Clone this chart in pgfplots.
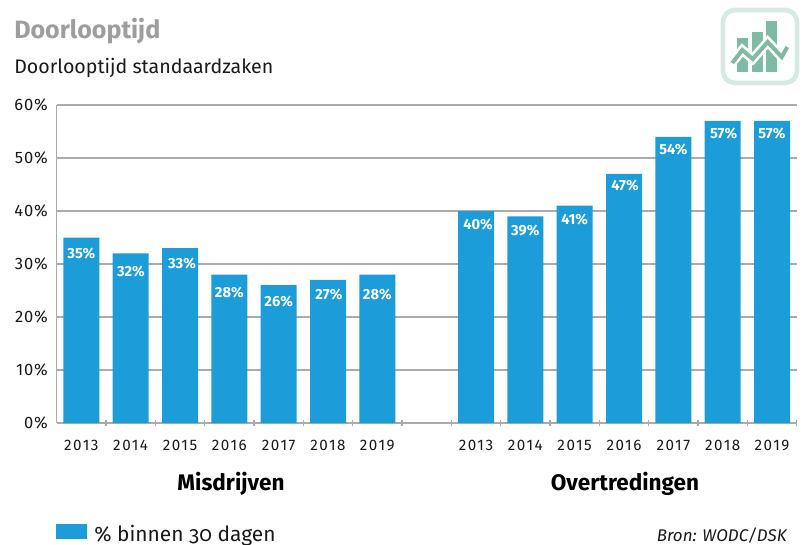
\documentclass[border=0pt]{standalone}
\usepackage{pgfplots}
\usepackage{pgfplotstable}
\pgfplotsset{compat=1.18}
\usepackage{fontspec}
\setmainfont[Numbers=Lining]{Fira Sans}
\newfontfamily\oldfig[Numbers=OldStyle]{Fira Sans}
\newfontfamily\tickf[Numbers=Lining,LetterSpace=10]{Fira Sans}
\newfontfamily\ytickf[Numbers=Lining,LetterSpace=5]{Fira Sans}
\definecolor{barblue}{HTML}{1C9CD9}
\definecolor{gridgr}{HTML}{ABABAB}
\definecolor{logog}{HTML}{7FBBA4}
\definecolor{logob}{HTML}{D6E9E2}
\pgfplotstableread{
x  y  dx  dy
1  35 0   16.2
2  32 0.3 18.3
3  33 2   15.7
4  28 0   18.1
5  26 0   16.5
6  27 1   14.8
7  28 0   20.1
9  40 2   13.7
10 39 0   14.4
11 41 0   14
12 47 1   11.8
13 54 0   12.9
14 57 1   12.8
15 57 0   12.8
}\datatable
\begin{document}
\begin{tikzpicture}[x=0.75pt,y=-0.75pt]
\path[use as bounding box] (0,0) rectangle (803,545);
\begin{axis}[
  at={(42.5pt,-317.25pt)}, anchor=south west,
  scale only axis, width=555pt, height=238.5pt,
  xmin=0.5, xmax=15.5, ymin=0, ymax=60,
  ybar, bar width=27pt, bar shift=0pt,
  axis lines=left, axis line style={gridgr,line width=1pt,-},
  ymajorgrids, grid style={gridgr,line width=0.9pt},
  ytick={0,10,...,60},
  yticklabel={\pgfmathprintnumber{\tick}\%},
  /pgf/number format/assume math mode=true,
  xtick={1,2,3,4,5,6,7,9,10,11,12,13,14,15},
  xticklabels={2013,2014,2015,2016,2017,2018,2019,2013,2014,2015,2016,2017,2018,2019},
  minor xtick={1.5,2.5,...,15.5},
  major x tick style={draw=none},
  major y tick style={draw=none},
  minor x tick style={gridgr,line width=0.9pt},
  minor tick length=4.5pt,
  xticklabel style={font=\tickf\fontsize{11.4}{13}\selectfont,text=black!90,yshift=-7pt},
  yticklabel style={font=\ytickf\fontsize{12.4}{13}\selectfont,text=black!90,xshift=-1pt,yshift=0.4pt},
  visualization depends on={\thisrow{dx} \as \dxv},
  visualization depends on={\thisrow{dy} \as \dyv},
  nodes near coords={\pgfmathprintnumber{\pgfplotspointmeta}\%},
  every node near coord/.style={font=\bfseries\fontsize{11}{12}\selectfont,text=white,anchor=center,inner sep=0pt,xshift={0.75pt*\dxv},yshift={-0.75pt*\dyv}},
  point meta=y,
  clip=false,
]
\addplot[fill=barblue,draw=none] table[x=x,y=y] {\datatable};
\end{axis}
\node[anchor=base west,inner sep=0,font=\bfseries\fontsize{18.8}{20}\selectfont,text=black!38] at (14,39) {Doorlooptijd};
\node[anchor=base west,inner sep=0,font=\fontsize{14.7}{16}\selectfont,text=black!90] at (14,74) {Doorlooptijd standaardzaken};
\node[anchor=base,inner sep=0,font=\bfseries\fontsize{16.9}{18}\selectfont] at (231,490) {Misdrijven};
\node[anchor=base,inner sep=0,font=\bfseries\fontsize{16.9}{18}\selectfont] at (625,490) {Overtredingen};
\fill[barblue] (56,524) rectangle (87,539);
\node[anchor=base west,inner sep=0,font=\fontsize{15.7}{17}\selectfont,text=black!90] at (94,541) {\% binnen {\oldfig 30} dagen};
\node[anchor=base east,inner sep=0,font=\itshape\fontsize{12.7}{14}\selectfont,text=black!90] at (787,541) {Bron: WODC/DSK};
\draw[logob,line width=3.5pt,rounded corners=9pt,fill=white] (723,10) rectangle (797,83);
\fill[logog] (737,38) rectangle (748,72);
\fill[logog] (752,32) rectangle (763,72);
\fill[logog] (766,21) rectangle (777,72);
\draw[white,line width=7pt] (730,65) -- (742.3,50) -- (752.7,59) -- (767.7,42) -- (781.7,57) -- (789,45);
\draw[logog,line width=3pt] (732.3,63) -- (742.3,50) -- (752.7,59) -- (767.7,42) -- (781.7,57) -- (787.3,47);
\end{tikzpicture}
\end{document}
